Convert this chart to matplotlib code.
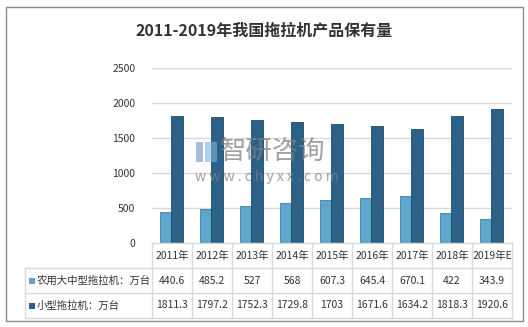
import matplotlib.pyplot as plt
from matplotlib.patches import Rectangle
from matplotlib.lines import Line2D

plt.rcParams['font.family'] = ['Noto Sans CJK SC', 'DejaVu Sans']

# data
years = ['2011年', '2012年', '2013年', '2014年', '2015年', '2016年', '2017年', '2018年', '2019年E']
large = [440.6, 485.2, 527, 568, 607.3, 645.4, 670.1, 422, 343.9]
small = [1811.3, 1797.2, 1752.3, 1729.8, 1703, 1671.6, 1634.2, 1818.3, 1920.6]
names = ['农用大中型拖拉机：万台', '小型拖拉机：万台']
title = '2011-2019年我国拖拉机产品保有量'

W, H = 528, 327
c_light = '#5ea6cb'
c_dark = '#2d6288'
grid_c = '#d9d9d9'
txt_c = '#333333'

fig = plt.figure(figsize=(W / 100, H / 100), dpi=100)


def fx(x):
    return x / W


def fy(y):
    return 1 - y / H


# outer frame
fig.patches.append(Rectangle((fx(5.5), fy(320.5)), fx(517), 314 / H, transform=fig.transFigure,
                             fill=False, edgecolor='#8c8c8c', lw=1))

fig.text(0.5, fy(31), title, ha='center', va='center', fontsize=11.5, color='#333333',
         fontweight='bold')

# plot area
left, right, top, bottom = 152, 512, 68, 243
ax = fig.add_axes([fx(left), fy(bottom), (right - left) / W, (bottom - top) / H])
n = len(years)
xs = range(n)
ax.bar([i + 0.2 for i in xs], large, width=0.28, align='edge', color=c_light,
       edgecolor='#3f7fa3', lw=0.6, zorder=3)
ax.bar([i + 0.48 for i in xs], small, width=0.3, align='edge', color=c_dark,
       edgecolor='#1e4a68', lw=0.6, zorder=3)
ax.set_xlim(0, n)
ax.set_ylim(0, 2500)
ax.set_yticks(range(0, 2501, 500))
ax.tick_params(axis='y', length=0, pad=12, labelsize=7.5, labelcolor=txt_c)
ax.set_xticks([])
for s in ax.spines.values():
    s.set_visible(False)
for v in range(500, 2501, 500):
    ax.axhline(v, color=grid_c, lw=1, zorder=0)

# data table below the plot
rows = [243, 268, 293, 318]
colw = (right - left) / n
lab_left = 25


def hline(y, x0, x1):
    fig.lines.append(Line2D([fx(x0), fx(x1)], [fy(y), fy(y)], transform=fig.transFigure,
                            color=grid_c, lw=1))


def vline(x, y0, y1):
    fig.lines.append(Line2D([fx(x), fx(x)], [fy(y0), fy(y1)], transform=fig.transFigure,
                            color=grid_c, lw=1))


hline(rows[0], left, right)
for y in rows[1:]:
    hline(y, lab_left, right)
for i in range(n + 1):
    vline(left + i * colw, rows[0], rows[3])
vline(lab_left, rows[1], rows[3])

for i, yr in enumerate(years):
    cx = left + (i + 0.5) * colw
    fig.text(fx(cx), fy((rows[0] + rows[1]) / 2), yr, ha='center', va='center',
             fontsize=7.5, color=txt_c)
    fig.text(fx(cx), fy((rows[1] + rows[2]) / 2), f'{large[i]:g}', ha='center', va='center',
             fontsize=7.5, color=txt_c)
    fig.text(fx(cx), fy((rows[2] + rows[3]) / 2), f'{small[i]:g}', ha='center', va='center',
             fontsize=7.5, color=txt_c)

for k, (nm, col) in enumerate(zip(names, [c_light, c_dark])):
    yc = (rows[k + 1] + rows[k + 2]) / 2
    fig.patches.append(Rectangle((fx(29), fy(yc + 3)), 6 / W, 6 / H, transform=fig.transFigure,
                                 facecolor=col, edgecolor='none'))
    fig.text(fx(37), fy(yc), nm, ha='left', va='center', fontsize=7.5, color=txt_c)

# watermark
fig.patches.append(Rectangle((fx(196), fy(162)), 7 / W, 20 / H, transform=fig.transFigure,
                             facecolor='#6f8fc0', alpha=0.6, edgecolor='none'))
fig.patches.append(Rectangle((fx(205), fy(162)), 12 / W, 20 / H, transform=fig.transFigure,
                             facecolor='#7fb4dc', alpha=0.6, edgecolor='none'))
fig.text(fx(220), fy(151), '智研咨询', ha='left', va='center', fontsize=19,
         color='#808080', alpha=0.75)
fig.text(fx(195), fy(177), 'w w w . c h y x x . c o m', ha='left', va='center', fontsize=10,
         color='#808080', alpha=0.75)

fig.savefig('out.png', dpi=100)
